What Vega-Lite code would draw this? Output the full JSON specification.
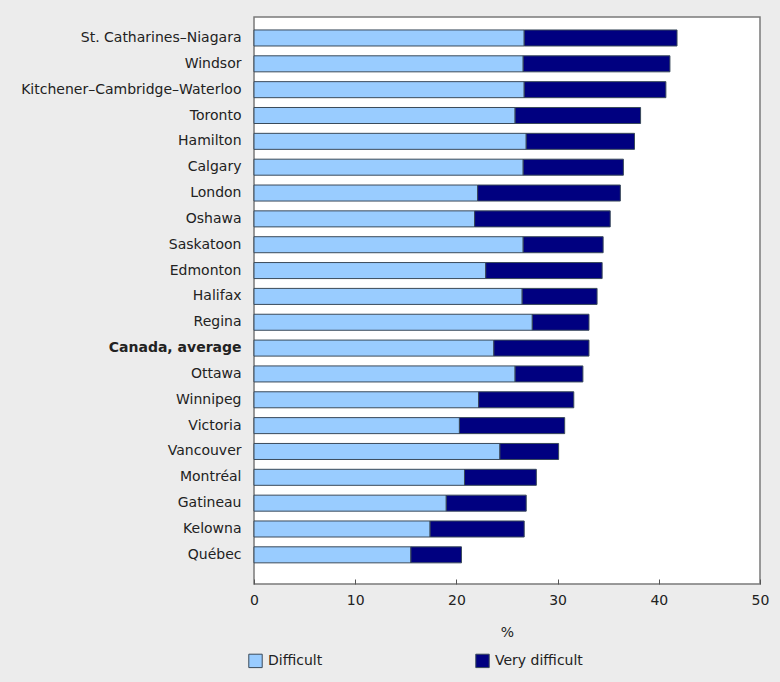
{
  "$schema": "https://vega.github.io/schema/vega-lite/v6.json",
  "width": 506,
  "height": 567,
  "autosize": {"type": "none"},
  "padding": {"left": 254, "top": 17, "right": 20, "bottom": 98},
  "background": "#ececec",
  "config": {
    "view": {"fill": "white", "stroke": "#7a7a7a", "strokeWidth": 1.5},
    "font": "DejaVu Sans"
  },
  "data": {
    "values": [
      {"city": "St. Catharines–Niagara", "type": "Difficult", "value": 26.7},
      {"city": "St. Catharines–Niagara", "type": "Very difficult", "value": 15.1},
      {"city": "Windsor", "type": "Difficult", "value": 26.6},
      {"city": "Windsor", "type": "Very difficult", "value": 14.5},
      {"city": "Kitchener–Cambridge–Waterloo", "type": "Difficult", "value": 26.7},
      {"city": "Kitchener–Cambridge–Waterloo", "type": "Very difficult", "value": 14.0},
      {"city": "Toronto", "type": "Difficult", "value": 25.8},
      {"city": "Toronto", "type": "Very difficult", "value": 12.4},
      {"city": "Hamilton", "type": "Difficult", "value": 26.9},
      {"city": "Hamilton", "type": "Very difficult", "value": 10.7},
      {"city": "Calgary", "type": "Difficult", "value": 26.6},
      {"city": "Calgary", "type": "Very difficult", "value": 9.9},
      {"city": "London", "type": "Difficult", "value": 22.1},
      {"city": "London", "type": "Very difficult", "value": 14.1},
      {"city": "Oshawa", "type": "Difficult", "value": 21.8},
      {"city": "Oshawa", "type": "Very difficult", "value": 13.4},
      {"city": "Saskatoon", "type": "Difficult", "value": 26.6},
      {"city": "Saskatoon", "type": "Very difficult", "value": 7.9},
      {"city": "Edmonton", "type": "Difficult", "value": 22.9},
      {"city": "Edmonton", "type": "Very difficult", "value": 11.5},
      {"city": "Halifax", "type": "Difficult", "value": 26.5},
      {"city": "Halifax", "type": "Very difficult", "value": 7.4},
      {"city": "Regina", "type": "Difficult", "value": 27.5},
      {"city": "Regina", "type": "Very difficult", "value": 5.6},
      {"city": "Canada, average", "type": "Difficult", "value": 23.7},
      {"city": "Canada, average", "type": "Very difficult", "value": 9.4},
      {"city": "Ottawa", "type": "Difficult", "value": 25.8},
      {"city": "Ottawa", "type": "Very difficult", "value": 6.7},
      {"city": "Winnipeg", "type": "Difficult", "value": 22.2},
      {"city": "Winnipeg", "type": "Very difficult", "value": 9.4},
      {"city": "Victoria", "type": "Difficult", "value": 20.3},
      {"city": "Victoria", "type": "Very difficult", "value": 10.4},
      {"city": "Vancouver", "type": "Difficult", "value": 24.3},
      {"city": "Vancouver", "type": "Very difficult", "value": 5.8},
      {"city": "Montréal", "type": "Difficult", "value": 20.8},
      {"city": "Montréal", "type": "Very difficult", "value": 7.1},
      {"city": "Gatineau", "type": "Difficult", "value": 19.0},
      {"city": "Gatineau", "type": "Very difficult", "value": 7.9},
      {"city": "Kelowna", "type": "Difficult", "value": 17.4},
      {"city": "Kelowna", "type": "Very difficult", "value": 9.3},
      {"city": "Québec", "type": "Difficult", "value": 15.5},
      {"city": "Québec", "type": "Very difficult", "value": 5.0}
    ]
  },
  "mark": {"type": "bar", "stroke": "#3a4a5a", "strokeWidth": 1},
  "encoding": {
    "y": {
      "field": "city",
      "type": "nominal",
      "sort": null,
      "scale": {"paddingInner": 0.38, "paddingOuter": 0.66, "align": 0.38},
      "axis": {
        "title": null,
        "domain": false,
        "ticks": false,
        "labelPadding": 13,
        "labelFontSize": 14,
        "labelColor": "#222222",
        "labelLimit": 300,
        "labelFontWeight": {"condition": {"test": "datum.value === 'Canada, average'", "value": "bold"}, "value": "normal"}
      }
    },
    "x": {
      "field": "value",
      "type": "quantitative",
      "stack": "zero",
      "scale": {"domain": [0, 50], "nice": false},
      "axis": {
        "title": "%",
        "titleFontWeight": "normal",
        "titleFontSize": 14,
        "titleColor": "#222222",
        "titlePadding": 18,
        "values": [0, 10, 20, 30, 40, 50],
        "grid": false,
        "domain": false,
        "labelFlush": false,
        "tickSize": -5,
        "tickColor": "#555555",
        "labelPadding": 14,
        "labelFontSize": 14,
        "labelColor": "#222222"
      }
    },
    "color": {
      "field": "type",
      "type": "nominal",
      "scale": {"domain": ["Difficult", "Very difficult"], "range": ["#99ccff", "#000080"]},
      "legend": {
        "title": null,
        "orient": "none",
        "legendX": -6,
        "legendY": 636,
        "direction": "horizontal",
        "symbolType": "square",
        "symbolSize": 180,
        "symbolStrokeColor": "#3a4a5a",
        "symbolStrokeWidth": 1,
        "labelFontSize": 14,
        "labelColor": "#222222",
        "labelOffset": 5,
        "columnPadding": 150
      }
    }
  }
}
